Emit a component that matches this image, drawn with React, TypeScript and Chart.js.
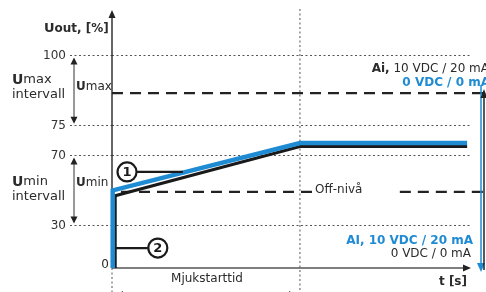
import { useEffect, useRef } from 'react';
import { Chart, registerables } from 'chart.js';

Chart.register(...registerables);

const BLUE = '#1f8bd3';
const INK = '#2b2b2b';
const FONT = '"DejaVu Sans", Verdana, sans-serif';

// Schematic (not-to-scale) y levels and their printed labels
const yTickValues = [0, 20, 53, 67, 100];
const yTickLabels = ['0', '30', '70', '75', '100'];

// Curve (2) blue: Ai 10 VDC / 20 mA
const blueX = [0.2, 0.2, 52.5, 99.2];
const blueY = [0, 36.5, 58.8, 58.8];
// Curve (1) black
const blackX = [0.9, 0.9, 52.5, 99.2];
const blackY = [0, 34, 57.2, 57.2];

// Reference levels
const umaxLevel = 82.3;
const offLevel = 35.8;
const umaxLineX = [0, 104];
const offLineX1 = [0, 56.1];
const offLineX2 = [80.4, 104];
const softStartEnd = 52.5;

const pts = (xs: number[], ys: number[]) => xs.map((x, i) => ({ x, y: ys[i] }));

type Run = { t: string; bold?: boolean; size?: number; color?: string };

function drawRuns(ctx: CanvasRenderingContext2D, runs: Run[], x: number, y: number, align: 'left' | 'right' | 'center', color = INK) {
  const fonts = runs.map(r => `${r.bold ? 'bold ' : ''}${r.size || 12}px ${FONT}`);
  const widths = runs.map((r, i) => { ctx.font = fonts[i]; return ctx.measureText(r.t).width; });
  const total = widths.reduce((a, b) => a + b, 0);
  let cx = align === 'left' ? x : align === 'right' ? x - total : x - total / 2;
  ctx.textAlign = 'left';
  ctx.textBaseline = 'middle';
  runs.forEach((r, i) => {
    ctx.font = fonts[i];
    ctx.fillStyle = r.color || color;
    ctx.fillText(r.t, cx, y);
    cx += widths[i];
  });
}

function seg(ctx: CanvasRenderingContext2D, x1: number, y1: number, x2: number, y2: number) {
  ctx.beginPath(); ctx.moveTo(x1, y1); ctx.lineTo(x2, y2); ctx.stroke();
}

function head(ctx: CanvasRenderingContext2D, tx: number, ty: number, dir: 'up' | 'down' | 'right' | 'left', len = 8, half = 3.5) {
  ctx.beginPath();
  ctx.moveTo(tx, ty);
  if (dir === 'up') { ctx.lineTo(tx - half, ty + len); ctx.lineTo(tx + half, ty + len); }
  if (dir === 'down') { ctx.lineTo(tx - half, ty - len); ctx.lineTo(tx + half, ty - len); }
  if (dir === 'right') { ctx.lineTo(tx - len, ty - half); ctx.lineTo(tx - len, ty + half); }
  if (dir === 'left') { ctx.lineTo(tx + len, ty - half); ctx.lineTo(tx + len, ty + half); }
  ctx.closePath();
  ctx.fill();
}

const schematic = {
  id: 'schematic',
  beforeDatasetsDraw(chart: any) {
    const { ctx, scales: { x, y } } = chart;
    const px = (v: number) => x.getPixelForValue(v);
    const py = (v: number) => y.getPixelForValue(v);
    ctx.save();
    ctx.strokeStyle = '#555';
    ctx.lineWidth = 1;
    ctx.setLineDash([2, 2.5]);
    seg(ctx, px(softStartEnd), 9, px(softStartEnd), 292);
    seg(ctx, px(0), py(0), px(0), 292);
    ctx.setLineDash([]);
    // axes
    ctx.strokeStyle = '#333';
    ctx.fillStyle = '#222';
    ctx.lineWidth = 1.5;
    seg(ctx, px(0), py(0), px(0), 14);
    head(ctx, px(0), 10, 'up', 8, 3.5);
    ctx.strokeStyle = '#555';
    seg(ctx, px(0), py(0), 464, py(0));
    head(ctx, 471, py(0), 'right', 8, 3.5);
    ctx.restore();
  },
  afterDraw(chart: any) {
    const { ctx, scales: { x, y } } = chart;
    const px = (v: number) => x.getPixelForValue(v);
    const py = (v: number) => y.getPixelForValue(v);
    ctx.save();
    // interval double arrows
    ctx.strokeStyle = '#333';
    ctx.fillStyle = '#222';
    ctx.lineWidth = 1;
    const ax = 74;
    seg(ctx, ax, py(100) + 4, ax, py(67) - 4);
    head(ctx, ax, py(100) + 2, 'up', 7, 3.5);
    head(ctx, ax, py(67) - 2, 'down', 7, 3.5);
    seg(ctx, ax, py(53) + 4, ax, py(20) - 4);
    head(ctx, ax, py(53) + 2, 'up', 7, 3.5);
    head(ctx, ax, py(20) - 2, 'down', 7, 3.5);

    // right-hand arrows
    ctx.lineWidth = 1.5;
    ctx.strokeStyle = BLUE; ctx.fillStyle = BLUE;
    seg(ctx, 481, py(umaxLevel) - 8, 481, 264);
    head(ctx, 481, 272, 'down', 9, 4);
    ctx.strokeStyle = '#222'; ctx.fillStyle = '#222';
    seg(ctx, 484, py(0) + 2, 484, py(umaxLevel) - 1);
    head(ctx, 484, py(umaxLevel) - 4, 'up', 9, 3.5);

    // bottom bracket arrowheads (cut off by edge)
    ctx.fillStyle = '#333';
    head(ctx, px(0) + 3, 295, 'left', 8, 4);
    head(ctx, px(softStartEnd) - 3, 295, 'right', 8, 4);

    // numbered callouts
    ctx.strokeStyle = '#1a1a1a';
    ctx.lineWidth = 2.2;
    const c1x = px(4.2), c1y = py(45.2);
    seg(ctx, c1x + 10, c1y, px(19.8), c1y);
    ctx.beginPath(); ctx.arc(c1x, c1y, 9.5, 0, Math.PI * 2);
    ctx.fillStyle = '#fff'; ctx.fill(); ctx.stroke();
    const c2x = px(12.8), c2y = py(9.4);
    seg(ctx, px(0.9), c2y, c2x - 10, c2y);
    ctx.beginPath(); ctx.arc(c2x, c2y, 9.5, 0, Math.PI * 2);
    ctx.fillStyle = '#fff'; ctx.fill(); ctx.stroke();
    drawRuns(ctx, [{ t: '1', bold: true, size: 13 }], c1x, c1y + 1, 'center', '#1a1a1a');
    drawRuns(ctx, [{ t: '2', bold: true, size: 13 }], c2x, c2y + 1, 'center', '#1a1a1a');

    // texts
    drawRuns(ctx, [{ t: 'U', bold: true, size: 13 }, { t: 'out, [%]', bold: true, size: 12 }], 44, 29, 'left');
    drawRuns(ctx, [{ t: 'U', bold: true, size: 14 }, { t: 'max', size: 13 }], 12, 80, 'left');
    drawRuns(ctx, [{ t: 'intervall', size: 13 }], 12, 95, 'left');
    drawRuns(ctx, [{ t: 'U', bold: true, size: 14 }, { t: 'min', size: 13 }], 12, 182, 'left');
    drawRuns(ctx, [{ t: 'intervall', size: 13 }], 12, 197, 'left');
    drawRuns(ctx, [{ t: 'U', bold: true, size: 12 }, { t: 'max', size: 12 }], 76, 87, 'left');
    drawRuns(ctx, [{ t: 'U', bold: true, size: 12 }, { t: 'min', size: 12 }], 76, 183, 'left');
    drawRuns(ctx, [{ t: '0', size: 12 }], 109, py(0) - 3, 'right');
    drawRuns(ctx, [{ t: 'Ai,', bold: true }, { t: ' 10 VDC / 20 mA' }], 489, 69, 'right');
    drawRuns(ctx, [{ t: '0 VDC / 0 mA', bold: true, color: BLUE }], 490, 83, 'right');
    drawRuns(ctx, [{ t: 'AI, 10 VDC / 20 mA', bold: true, color: BLUE }], 473, 241, 'right');
    drawRuns(ctx, [{ t: '0 VDC / 0 mA' }], 471, 254, 'right');
    drawRuns(ctx, [{ t: 't [s]', bold: true }], 467, 282, 'right');
    drawRuns(ctx, [{ t: 'Mjukstarttid' }], 207, 279, 'center');
    drawRuns(ctx, [{ t: 'Off-nivå' }], 315, py(offLevel) - 2, 'left');
    ctx.restore();
  },
};

export default function App() {
  const ref = useRef<HTMLCanvasElement>(null);
  useEffect(() => {
    document.body.style.margin = '0';
    const canvas = ref.current;
    if (!canvas) return;
    const dashed = { borderColor: '#222', borderWidth: 2.2, borderDash: [11, 7], pointRadius: 0, clip: false as any, order: 3 };
    const chart = new Chart(canvas, {
      type: 'line',
      data: {
        datasets: [
          { ...dashed, data: pts(umaxLineX, [umaxLevel, umaxLevel]) },
          { ...dashed, borderDashOffset: 9, data: pts(offLineX1, [offLevel, offLevel]) },
          { ...dashed, data: pts(offLineX2, [offLevel, offLevel]) },
          { data: pts(blackX, blackY), borderColor: '#1a1a1a', borderWidth: 3, pointRadius: 0, tension: 0, clip: false as any, order: 2 },
          { data: pts(blueX, blueY), borderColor: BLUE, borderWidth: 4.5, pointRadius: 0, tension: 0, clip: false as any, order: 1 },
        ],
      },
      options: {
        animation: false,
        responsive: false,
        maintainAspectRatio: false,
        layout: { padding: { top: 13, right: 16, bottom: 24, left: 0 } },
        plugins: { legend: { display: false }, tooltip: { enabled: false } },
        scales: {
          x: { type: 'linear', min: 0, max: 100, display: false },
          y: {
            type: 'linear',
            min: 0,
            max: 120,
            afterFit: (s: any) => { s.width = 112; },
            afterBuildTicks: (s: any) => { s.ticks = yTickValues.map(v => ({ value: v })); },
            border: { display: false, dash: [2, 2.5] },
            grid: {
              color: (c: any) => (c.tick && c.tick.value === 0 ? 'rgba(0,0,0,0)' : '#555'),
              tickColor: (c: any) => (c.tick && c.tick.value === 0 ? 'rgba(0,0,0,0)' : '#555'),
              lineWidth: 1,
              tickWidth: 1,
              tickBorderDash: [2, 2.5],
              tickLength: 42,
            } as any,
            ticks: {
              padding: 4,
              color: '#333',
              font: { family: FONT, size: 12 },
              callback: (v: any) => {
                const i = yTickValues.indexOf(Number(v));
                return i > 0 ? yTickLabels[i] : '';
              },
            },
          },
        },
      },
      plugins: [schematic],
    });
    return () => chart.destroy();
  }, []);
  return (
    <div style={{ width: 486, height: 292 }}>
      <canvas ref={ref} width={486} height={292} />
    </div>
  );
}
